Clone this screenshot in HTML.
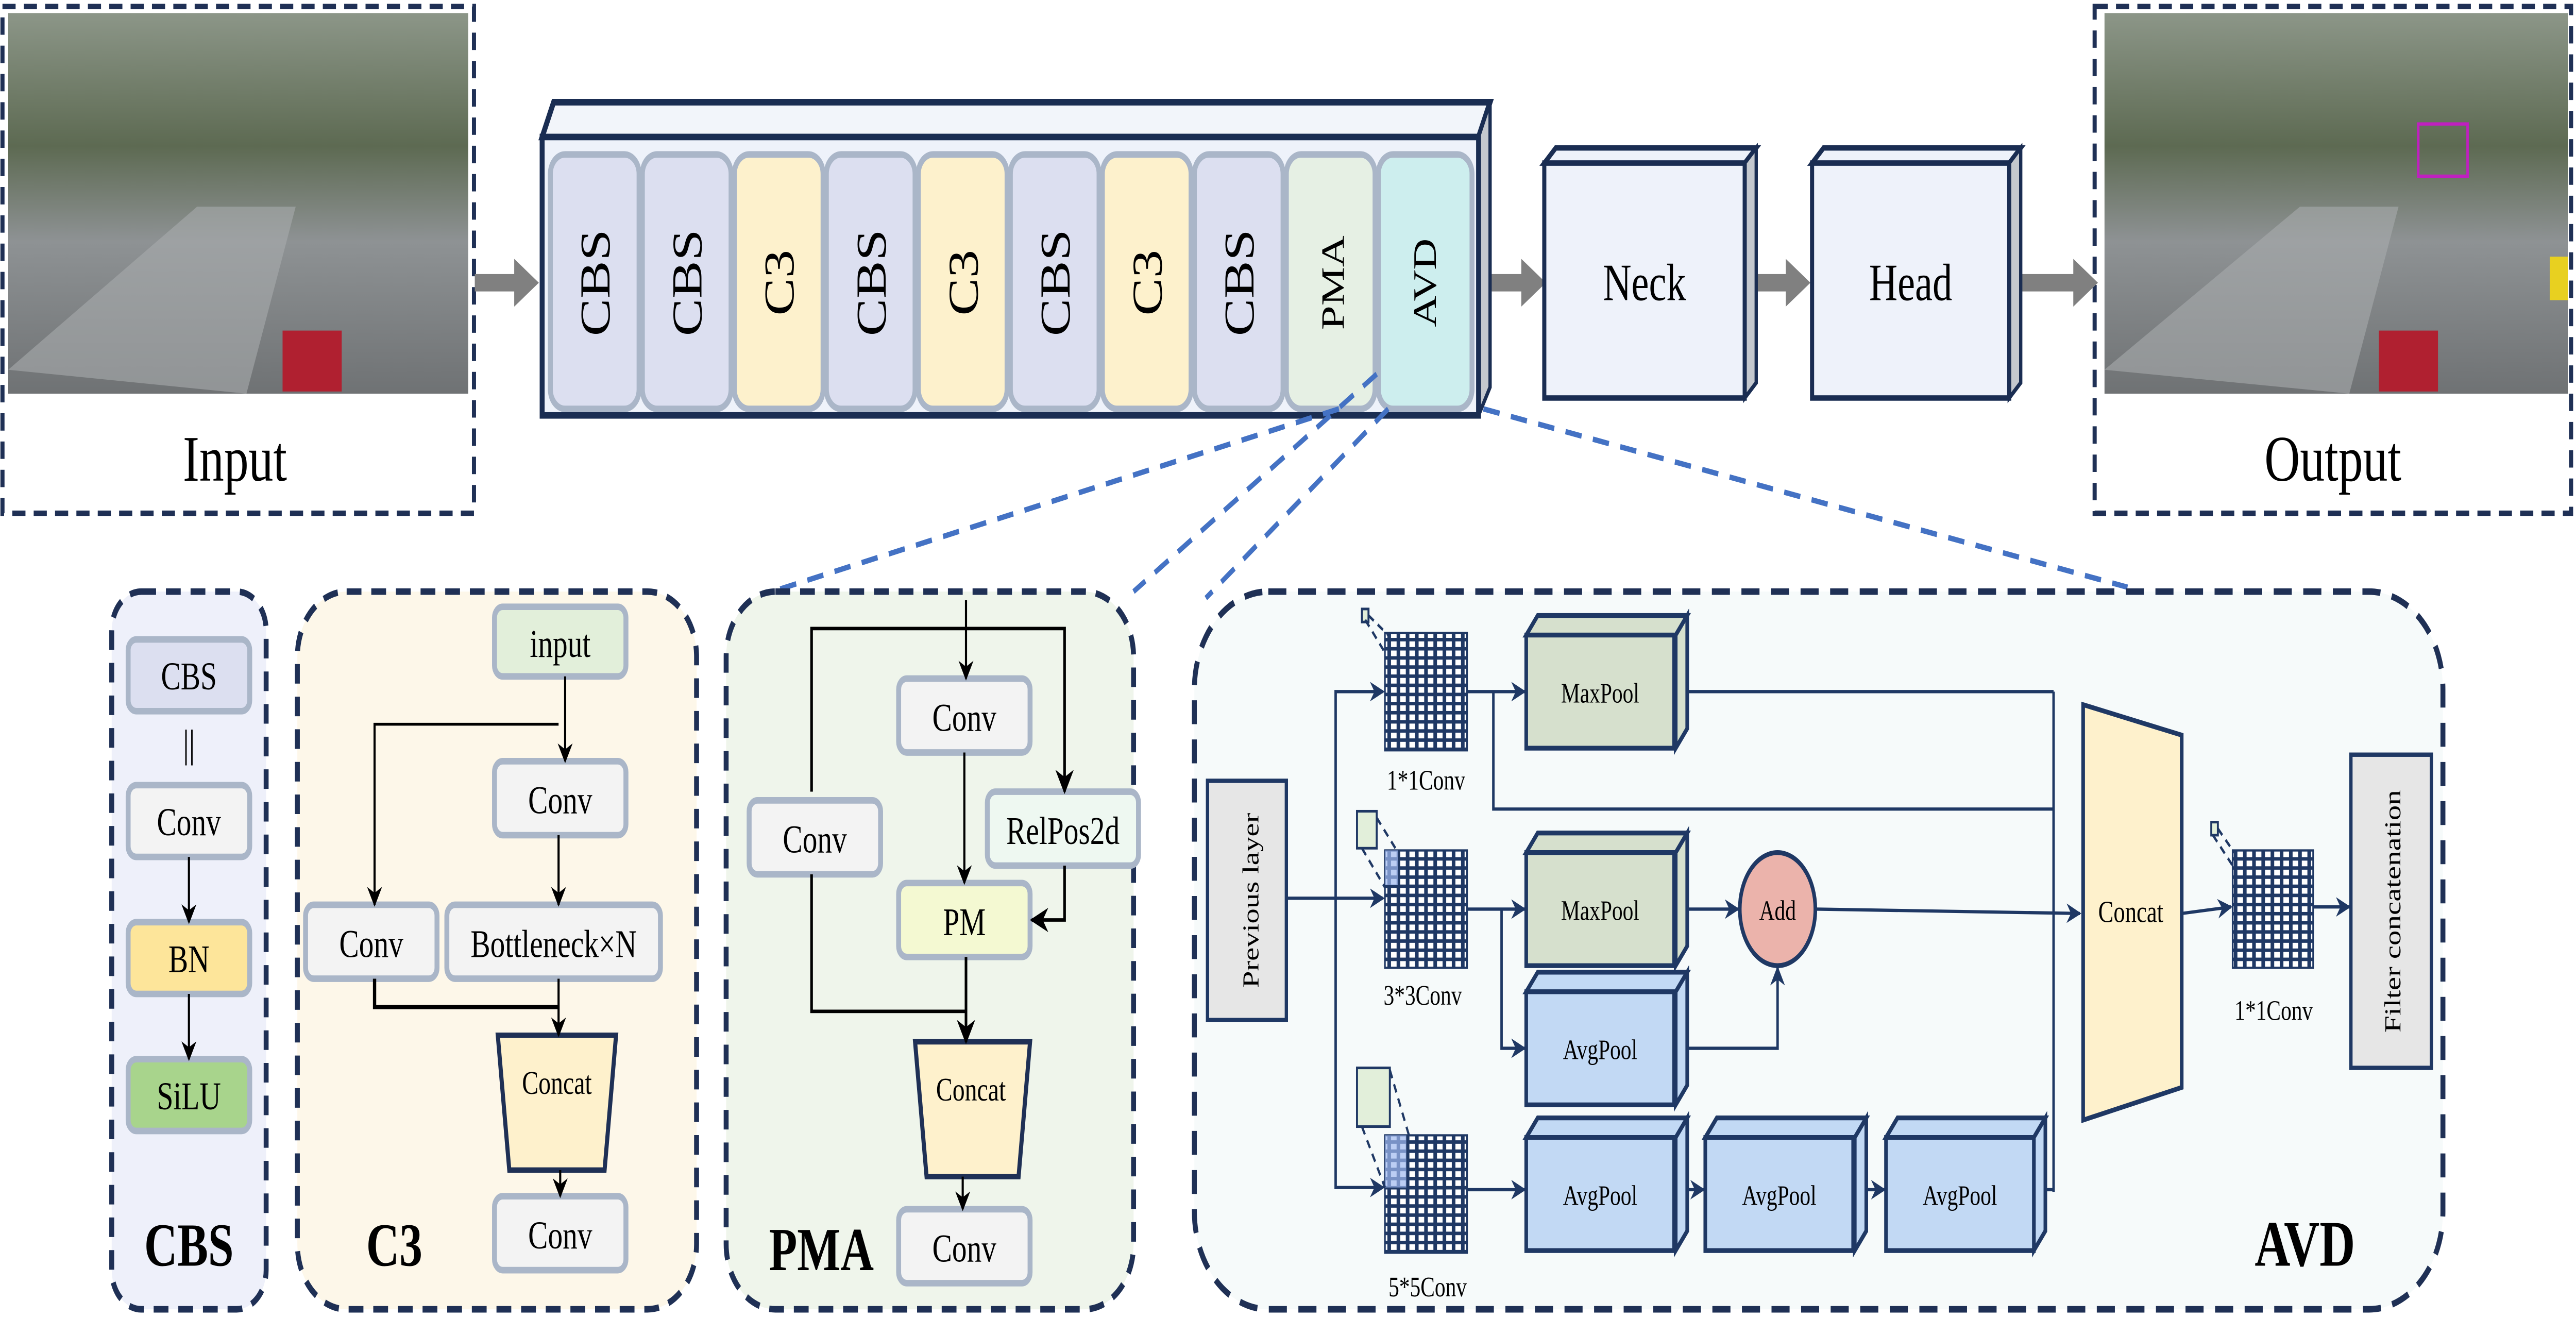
<!DOCTYPE html>
<html><head><meta charset="utf-8"><style>
html,body{margin:0;padding:0;background:#fff;width:100%;height:100%;overflow:hidden}
svg{display:block;position:fixed;left:0;top:0;width:100vw;height:100vh}
text{font-family:"Liberation Serif",serif}
</style></head><body>
<svg viewBox="0 0 1568 606" preserveAspectRatio="none" xmlns="http://www.w3.org/2000/svg">
<defs>
<marker id="ak" viewBox="0 0 10 10" refX="9" refY="5" markerWidth="7" markerHeight="7" orient="auto"><path d="M0,0 L10,5 L0,10 L3,5z" fill="#000"/></marker>
<marker id="an" viewBox="0 0 10 10" refX="9" refY="5" markerWidth="6" markerHeight="6" orient="auto"><path d="M0,0 L10,5 L0,10 L3,5z" fill="#1f3864"/></marker>
<pattern id="grid" width="5.6" height="4.2" patternUnits="userSpaceOnUse"><rect width="5.6" height="4.2" fill="#1f3864"/><rect x="1.1" y="0.9" width="3.4" height="2.6" fill="#fff"/></pattern>
<linearGradient id="photo" x1="0" y1="0" x2="0" y2="1"><stop offset="0" stop-color="#8c9688"/><stop offset="0.35" stop-color="#5d6a52"/><stop offset="0.6" stop-color="#8e9294"/><stop offset="1" stop-color="#6f7274"/></linearGradient>
</defs>

<!-- Input -->
<rect x="1.5" y="3" width="287" height="233" fill="#fff" stroke="#1f3055" stroke-width="2.5" stroke-dasharray="8,5"/>
<rect x="5" y="6" width="280" height="175" fill="url(#photo)"/>
<path d="M5,170 L120,95 L180,95 L150,181 Z" fill="#a8acae" opacity="0.6"/>
<rect x="172" y="152" width="36" height="28" fill="#b02030"/>
<text x="143" y="221" font-size="30" text-anchor="middle">Input</text>

<!-- Output -->
<rect x="1275" y="3" width="290" height="233" fill="#fff" stroke="#1f3055" stroke-width="2.5" stroke-dasharray="8,5"/>
<rect x="1281" y="6" width="282" height="175" fill="url(#photo)"/>
<path d="M1281,170 L1400,95 L1460,95 L1430,181 Z" fill="#a8acae" opacity="0.6"/>
<rect x="1448" y="152" width="36" height="28" fill="#b02030"/>
<rect x="1472" y="57" width="30" height="24" fill="none" stroke="#c020c0" stroke-width="1.5"/>
<rect x="1552" y="118" width="11" height="20" fill="#e8d020"/>
<text x="1420" y="221" font-size="30" text-anchor="middle">Output</text>

<!-- grey arrows -->
<g fill="#808080">
<rect x="289" y="126" width="26" height="8"/><path d="M313,119 L328,130 L313,141Z"/>
<rect x="906" y="126" width="22" height="8"/><path d="M926,119 L941,130 L926,141Z"/>
<rect x="1063" y="126" width="26" height="8"/><path d="M1087,119 L1102,130 L1087,141Z"/>
<rect x="1224" y="126" width="40" height="8"/><path d="M1262,119 L1277,130 L1262,141Z"/>
</g>

<!-- Backbone 3D box -->
<path d="M330,63 L337,47 L907,47 L900,63Z" fill="#f2f5fa" stroke="#1a2d52" stroke-width="3"/>
<path d="M900,63 L907,47 L907,178 L900,191Z" fill="#c4c8ce" stroke="#1a2d52" stroke-width="2"/>
<rect x="330" y="63" width="570" height="128" fill="#eef2fa" stroke="#1a2d52" stroke-width="3"/>
<g stroke="#aab6c8" stroke-width="3">
<rect x="335" y="71" width="54" height="117" rx="9" fill="#dcdff0"/>
<rect x="391" y="71" width="54" height="117" rx="9" fill="#dcdff0"/>
<rect x="447" y="71" width="54" height="117" rx="9" fill="#fdf1cc"/>
<rect x="503" y="71" width="54" height="117" rx="9" fill="#dcdff0"/>
<rect x="559" y="71" width="54" height="117" rx="9" fill="#fdf1cc"/>
<rect x="615" y="71" width="54" height="117" rx="9" fill="#dcdff0"/>
<rect x="671" y="71" width="54" height="117" rx="9" fill="#fdf1cc"/>
<rect x="727" y="71" width="54" height="117" rx="9" fill="#dcdff0"/>
<rect x="783" y="71" width="54" height="117" rx="9" fill="#e6f0e4"/>
<rect x="839" y="71" width="57" height="117" rx="9" fill="#cdeeee"/>
</g>
<g font-size="26" text-anchor="middle">
<text transform="translate(371,130) rotate(-90)">CBS</text>
<text transform="translate(427,130) rotate(-90)">CBS</text>
<text transform="translate(483,130) rotate(-90)">C3</text>
<text transform="translate(539,130) rotate(-90)">CBS</text>
<text transform="translate(595,130) rotate(-90)">C3</text>
<text transform="translate(651,130) rotate(-90)">CBS</text>
<text transform="translate(707,130) rotate(-90)">C3</text>
<text transform="translate(763,130) rotate(-90)">CBS</text>
<text transform="translate(818,130) rotate(-90)" font-size="20">PMA</text>
<text transform="translate(874,130) rotate(-90)" font-size="20">AVD</text>
</g>

<!-- Neck / Head -->
<path d="M940,75 L947,68 L1069,68 L1062,75Z" fill="#eef2fa" stroke="#1a2d52" stroke-width="2.5"/>
<path d="M1062,75 L1069,68 L1069,176 L1062,183Z" fill="#c4c8ce" stroke="#1a2d52" stroke-width="2"/>
<rect x="940" y="75" width="122" height="108" fill="#eef2fa" stroke="#1a2d52" stroke-width="2.5"/>
<text x="1001" y="138" font-size="24" text-anchor="middle">Neck</text>
<path d="M1103,75 L1110,68 L1230,68 L1223,75Z" fill="#eef2fa" stroke="#1a2d52" stroke-width="2.5"/>
<path d="M1223,75 L1230,68 L1230,176 L1223,183Z" fill="#c4c8ce" stroke="#1a2d52" stroke-width="2"/>
<rect x="1103" y="75" width="120" height="108" fill="#eef2fa" stroke="#1a2d52" stroke-width="2.5"/>
<text x="1163" y="138" font-size="24" text-anchor="middle">Head</text>

<!-- blue dashed guide lines -->
<g stroke="#4472c4" stroke-width="2.5" stroke-dasharray="10,7" fill="none">
<line x1="815" y1="188" x2="470" y2="272"/>
<line x1="838" y1="172" x2="690" y2="272"/>
<line x1="845" y1="188" x2="734" y2="275"/>
<line x1="903" y1="188" x2="1295" y2="270"/>
</g>

<!-- CBS panel -->
<rect x="68" y="272" width="94" height="330" rx="18" fill="#eef0fa" stroke="#1f3055" stroke-width="3" stroke-dasharray="9,6"/>
<g stroke="#aab6c8" stroke-width="3">
<rect x="78" y="294" width="74" height="33" rx="5" fill="#dcdff0"/>
<rect x="78" y="361" width="74" height="33" rx="5" fill="#f3f3f3"/>
<rect x="78" y="424" width="74" height="33" rx="5" fill="#fde59a"/>
<rect x="78" y="487" width="74" height="33" rx="5" fill="#a8d48c"/>
</g>
<g font-size="18" text-anchor="middle">
<text x="115" y="317">CBS</text>
<text x="115" y="348">||</text>
<text x="115" y="384">Conv</text>
<text x="115" y="447">BN</text>
<text x="115" y="510">SiLU</text>
</g>
<g stroke="#000" stroke-width="1.3" marker-end="url(#ak)">
<line x1="115" y1="394" x2="115" y2="424"/>
<line x1="115" y1="457" x2="115" y2="487"/>
</g>
<text x="115" y="582" font-size="28" font-weight="bold" text-anchor="middle">CBS</text>

<!-- C3 panel -->
<rect x="181" y="272" width="243" height="330" rx="30" fill="#fdf7e9" stroke="#1f3055" stroke-width="3" stroke-dasharray="9,6"/>
<g stroke="#aab6c8" stroke-width="3">
<rect x="301" y="279" width="80" height="32" rx="5" fill="#e2efda"/>
<rect x="301" y="350" width="80" height="34" rx="5" fill="#f3f3f3"/>
<rect x="186" y="416" width="80" height="34" rx="5" fill="#f3f3f3"/>
<rect x="272" y="416" width="130" height="34" rx="5" fill="#f3f3f3"/>
<rect x="301" y="550" width="80" height="34" rx="5" fill="#f3f3f3"/>
</g>
<path d="M303,476 L375,476 L368,538 L310,538Z" fill="#fef1cc" stroke="#1f3055" stroke-width="2.5"/>
<g font-size="18" text-anchor="middle">
<text x="341" y="302">input</text>
<text x="341" y="374">Conv</text>
<text x="226" y="440">Conv</text>
<text x="337" y="440">Bottleneck×N</text>
<text x="341" y="574">Conv</text>
<text x="339" y="503" font-size="15">Concat</text>
</g>
<g stroke="#000" stroke-width="1.3" fill="none">
<line x1="344" y1="311" x2="344" y2="350" marker-end="url(#ak)"/>
<polyline points="340,333 228,333 228,416" marker-end="url(#ak)"/>
<line x1="340" y1="384" x2="340" y2="416" marker-end="url(#ak)"/>
<polyline points="228,450 228,463 340,463" stroke-width="2"/>
<line x1="340" y1="450" x2="340" y2="476" marker-end="url(#ak)"/>
<line x1="341" y1="538" x2="341" y2="550" marker-end="url(#ak)"/>
</g>
<text x="240" y="582" font-size="28" font-weight="bold" text-anchor="middle">C3</text>

<!-- PMA panel -->
<rect x="442" y="272" width="248" height="330" rx="30" fill="#eff5eb" stroke="#1f3055" stroke-width="3" stroke-dasharray="9,6"/>
<g stroke="#aab6c8" stroke-width="3">
<rect x="547" y="312" width="80" height="34" rx="5" fill="#f3f3f3"/>
<rect x="456" y="368" width="80" height="34" rx="5" fill="#f3f3f3"/>
<rect x="601" y="364" width="92" height="34" rx="5" fill="#eef8f1"/>
<rect x="547" y="406" width="80" height="34" rx="5" fill="#f4f9d2"/>
<rect x="547" y="556" width="80" height="34" rx="5" fill="#f3f3f3"/>
</g>
<path d="M557,479 L627,479 L620,541 L564,541Z" fill="#fef1cc" stroke="#1f3055" stroke-width="2.5"/>
<g font-size="18" text-anchor="middle">
<text x="587" y="336">Conv</text>
<text x="496" y="392">Conv</text>
<text x="647" y="388">RelPos2d</text>
<text x="587" y="430">PM</text>
<text x="587" y="580">Conv</text>
<text x="591" y="506" font-size="15">Concat</text>
</g>
<g stroke="#000" stroke-width="1.3" fill="none">
<line x1="588" y1="276" x2="588" y2="312" marker-end="url(#ak)"/>
<polyline points="494,364 494,289 648,289 648,364" marker-end="url(#ak)" stroke-width="1.6"/>
<line x1="587" y1="346" x2="587" y2="406" marker-end="url(#ak)"/>
<polyline points="648,398 648,423 628,423" marker-end="url(#ak)" stroke-width="1.6"/>
<polyline points="494,402 494,465 588,465" stroke-width="1.6"/>
<line x1="588" y1="440" x2="588" y2="479" marker-end="url(#ak)" stroke-width="1.6"/>
<line x1="586" y1="541" x2="586" y2="556" marker-end="url(#ak)"/>
</g>
<text x="500" y="584" font-size="28" font-weight="bold" text-anchor="middle">PMA</text>

<!-- AVD panel -->
<rect x="727" y="272" width="760" height="330" rx="45" fill="#f6fafa" stroke="#1f3055" stroke-width="3" stroke-dasharray="11,7"/>
<rect x="735" y="359" width="48" height="110" fill="#e6e6e6" stroke="#1f3864" stroke-width="2"/>
<text transform="translate(766,414) rotate(-90)" font-size="14" text-anchor="middle">Previous layer</text>

<g stroke="#1f3864" stroke-width="1.5" fill="none">
<line x1="783" y1="413" x2="842" y2="413" marker-end="url(#an)"/>
<polyline points="813,413 813,318 842,318" marker-end="url(#an)"/>
<polyline points="813,413 813,546 842,546" marker-end="url(#an)"/>
<line x1="893" y1="318" x2="928" y2="318" marker-end="url(#an)"/>
<polyline points="909,318 909,372 1250,372"/>
<line x1="1018" y1="318" x2="1250" y2="318"/>
<line x1="1250" y1="318" x2="1250" y2="548"/>
<line x1="893" y1="418" x2="928" y2="418" marker-end="url(#an)"/>
<polyline points="914,418 914,482 928,482" marker-end="url(#an)"/>
<line x1="1018" y1="418" x2="1058" y2="418" marker-end="url(#an)"/>
<polyline points="1018,482 1082,482 1082,445" marker-end="url(#an)"/>
<line x1="1106" y1="418" x2="1266" y2="420" marker-end="url(#an)"/>
<line x1="893" y1="547" x2="928" y2="547" marker-end="url(#an)"/>
<line x1="1018" y1="547" x2="1037" y2="547" marker-end="url(#an)"/>
<line x1="1128" y1="547" x2="1147" y2="547" marker-end="url(#an)"/>
<line x1="1238" y1="547" x2="1250" y2="547"/>
<line x1="1328" y1="420" x2="1358" y2="417" marker-end="url(#an)"/>
<line x1="1408" y1="417" x2="1430" y2="417" marker-end="url(#an)"/>
</g>

<rect x="843" y="291" width="50" height="54" fill="url(#grid)" stroke="#1f3864"/>
<rect x="843" y="391" width="50" height="54" fill="url(#grid)" stroke="#1f3864"/>
<rect x="843" y="522" width="50" height="54" fill="url(#grid)" stroke="#1f3864"/>
<rect x="1359" y="391" width="49" height="54" fill="url(#grid)" stroke="#1f3864"/>
<rect x="843" y="391" width="8" height="16" fill="#9fb9ef" opacity="0.7"/>
<rect x="843" y="522" width="13" height="24" fill="#9fb9ef" opacity="0.7"/>
<rect x="829" y="280" width="4" height="6" fill="#e2efda" stroke="#1f3864" stroke-width="1.2"/>
<rect x="826" y="373" width="12" height="17" fill="#e2efda" stroke="#1f3864" stroke-width="1.2"/>
<rect x="826" y="491" width="20" height="27" fill="#e2efda" stroke="#1f3864" stroke-width="1.2"/>
<rect x="1346" y="378" width="4" height="6" fill="#e2efda" stroke="#1f3864" stroke-width="1.2"/>
<g stroke="#1f3864" stroke-width="1.3" stroke-dasharray="4,3" fill="none">
<line x1="833" y1="283" x2="845" y2="292"/><line x1="831" y1="285" x2="843" y2="300"/>
<line x1="838" y1="376" x2="851" y2="392"/><line x1="829" y1="390" x2="843" y2="408"/>
<line x1="846" y1="492" x2="858" y2="523"/><line x1="829" y1="518" x2="843" y2="546"/>
<line x1="1350" y1="381" x2="1360" y2="392"/><line x1="1347" y1="384" x2="1359" y2="398"/>
</g>
<g font-size="13" text-anchor="middle">
<text x="868" y="363">1*1Conv</text>
<text x="866" y="462">3*3Conv</text>
<text x="869" y="596">5*5Conv</text>
<text x="1384" y="469">1*1Conv</text>
</g>

<g stroke="#1f3864" stroke-width="2.2">
<path d="M929,292 L936,283 L1027,283 L1020,292Z" fill="#d6e0cd"/><path d="M1020,292 L1027,283 L1027,335 L1020,344Z" fill="#d6e0cd"/>
<rect x="929" y="292" width="90" height="52" fill="#d6e0cd"/>
<path d="M929,392 L936,383 L1027,383 L1020,392Z" fill="#d6e0cd"/><path d="M1020,392 L1027,383 L1027,435 L1020,444Z" fill="#d6e0cd"/>
<rect x="929" y="392" width="90" height="52" fill="#d6e0cd"/>
<path d="M929,456 L936,447 L1027,447 L1020,456Z" fill="#c2d9f4"/><path d="M1020,456 L1027,447 L1027,499 L1020,508Z" fill="#c2d9f4"/>
<rect x="929" y="456" width="90" height="52" fill="#c2d9f4"/>
<path d="M929,523 L936,514 L1027,514 L1020,523Z" fill="#c2d9f4"/><path d="M1020,523 L1027,514 L1027,566 L1020,575Z" fill="#c2d9f4"/>
<rect x="929" y="523" width="90" height="52" fill="#c2d9f4"/>
<path d="M1038,523 L1045,514 L1136,514 L1129,523Z" fill="#c2d9f4"/><path d="M1129,523 L1136,514 L1136,566 L1129,575Z" fill="#c2d9f4"/>
<rect x="1038" y="523" width="90" height="52" fill="#c2d9f4"/>
<path d="M1148,523 L1155,514 L1245,514 L1238,523Z" fill="#c2d9f4"/><path d="M1238,523 L1245,514 L1245,566 L1238,575Z" fill="#c2d9f4"/>
<rect x="1148" y="523" width="90" height="52" fill="#c2d9f4"/>
<ellipse cx="1082" cy="418" rx="23" ry="26" fill="#ebb3ab"/>
<path d="M1268,324 L1328,338 L1328,500 L1268,515Z" fill="#fef1cc"/>
<rect x="1431" y="347" width="49" height="144" fill="#e6e6e6" stroke-width="2"/>
</g>
<g font-size="13" text-anchor="middle">
<text x="974" y="323">MaxPool</text>
<text x="974" y="423">MaxPool</text>
<text x="974" y="487">AvgPool</text>
<text x="974" y="554">AvgPool</text>
<text x="1083" y="554">AvgPool</text>
<text x="1193" y="554">AvgPool</text>
<text x="1082" y="423">Add</text>
<text x="1297" y="424" font-size="14">Concat</text>
</g>
<text transform="translate(1461,419) rotate(-90)" font-size="14" text-anchor="middle">Filter concatenation</text>
<text x="1403" y="582" font-size="30" font-weight="bold" text-anchor="middle">AVD</text>
</svg>
</body></html>
